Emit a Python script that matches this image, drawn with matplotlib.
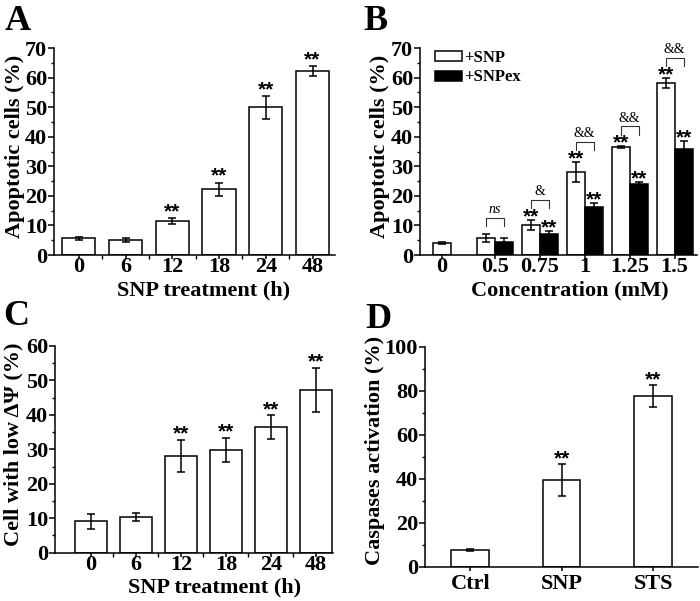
import numpy as np
import matplotlib.pyplot as plt
from matplotlib.ticker import MultipleLocator

plt.rcParams['font.family'] = 'Liberation Serif'
plt.rcParams['font.weight'] = 'bold'
plt.rcParams['axes.labelweight'] = 'bold'
plt.rcParams['axes.linewidth'] = 1.1

# ---- data ----
# A: apoptosis vs SNP treatment time
time_labels = ['0', '6', '12', '18', '24', '48']
apop_time = [5.6, 5.2, 11.5, 22.2, 49.9, 62.2]
apop_time_err = [0.6, 0.7, 1.0, 2.3, 4.0, 1.8]
apop_time_sig = ['', '', '**', '**', '**', '**']

# B: apoptosis vs concentration, SNP and SNPex
conc_labels = ['0', '0.5', '0.75', '1', '1.25', '1.5']
snp = [4.1, 5.75, 10.2, 28.2, 36.5, 58.3]
snp_err = [0.4, 1.4, 1.7, 3.4, 0.3, 1.7]
snp_sig = ['', '', '**', '**', '**', '**']
snpex = [4.5, 7.2, 16.3, 24.1, 35.7]      # no SNPex bar at 0 mM
snpex_err = [1.3, 0.9, 1.4, 0.5, 2.8]
snpex_sig = ['', '**', '**', '**', '**']
pair_sig = ['ns', '&', '&&', '&&', '&&']

# C: low membrane potential vs time
low_psi = [9.1, 10.3, 28.1, 29.8, 36.4, 47.3]
low_psi_err = [2.1, 1.2, 4.7, 3.6, 3.5, 6.4]
low_psi_sig = ['', '', '**', '**', '**', '**']

# D: caspase activation
casp_labels = ['Ctrl', 'SNP', 'STS']
casp = [7.5, 39.4, 77.6]
casp_err = [0.4, 7.3, 5.0]
casp_sig = ['', '**', '**']

FS = 16
EB = dict(fmt='none', ecolor='black', elinewidth=1.1, capsize=3, capthick=1.1)


def style_axis(ax, ymax, ymaj, ymin):
    for s in ['top', 'right']:
        ax.spines[s].set_visible(False)
    ax.set_ylim(0, ymax)
    ax.yaxis.set_major_locator(MultipleLocator(ymaj))
    ax.yaxis.set_minor_locator(MultipleLocator(ymin))
    ax.tick_params(which='major', direction='out', length=4, width=1.1,
                   labelsize=FS, pad=1)
    ax.tick_params(which='minor', direction='out', length=2.5, width=1.0)
    ax.tick_params(axis='x', which='major', length=3, pad=-1.5)
    ax.tick_params(axis='x', which='minor', length=3)


def stars(ax, xs, tops, errs, marks, off):
    for x, t, e, m in zip(xs, tops, errs, marks):
        if m:
            ax.annotate(m, (x, t + e), xytext=(0, off), textcoords='offset points',
                        ha='center', va='baseline', fontsize=15,
                        family='Liberation Sans', fontweight='bold')


fig = plt.figure(figsize=(7, 6.01), dpi=100)

# ---- A ----
axA = fig.add_axes([0.0771, 0.5757, 0.4014, 0.3444])
x = np.arange(len(time_labels))
axA.bar(x, apop_time, 0.714, color='white', edgecolor='black', linewidth=1.1, zorder=2)
axA.errorbar(x, apop_time, yerr=apop_time_err, zorder=3, **EB)
stars(axA, x, apop_time, apop_time_err, apop_time_sig, 0.5)
axA.set_xticks(x)
axA.set_xticklabels(time_labels)
axA.set_xticks(x[:-1] + 0.5, minor=True)
axA.set_xlim(-0.53, 5.48)
style_axis(axA, 70, 10, 5)
axA.set_ylabel('Apoptotic cells (%)', fontsize=FS)
axA.yaxis.set_label_coords(-0.103, 0.523)
axA.set_xlabel('SNP treatment (h)', fontsize=FS)
axA.xaxis.set_label_coords(0.534, -0.122)

# ---- B ----
axB = fig.add_axes([0.6, 0.5757, 0.3953, 0.3444])
xB = np.arange(len(conc_labels)) + np.r_[0, np.full(len(conc_labels) - 1, 0.18)]
w = 0.4
x_snp = xB - np.r_[0, np.full(len(conc_labels) - 1, w / 2)]
x_ex = xB[1:] + w / 2
axB.bar(x_snp, snp, w, color='white', edgecolor='black', linewidth=1.1, zorder=2,
        label='+SNP')
axB.bar(x_ex, snpex, w, color='black', edgecolor='black', linewidth=1.1, zorder=2,
        label='+SNPex')
axB.errorbar(x_snp, snp, yerr=snp_err, zorder=3, **EB)
axB.errorbar(x_ex, snpex, yerr=snpex_err, zorder=3, **EB)
stars(axB, x_snp, snp, snp_err, snp_sig, -1.8)
stars(axB, x_ex, snpex, snpex_err, snpex_sig, -1.8)
for i, m in enumerate(pair_sig):
    xl, xr = x_snp[i + 1], x_ex[i]
    top = snp[i + 1] + snp_err[i + 1] + (5.5 if m == 'ns' else 6.7)
    axB.plot([xl, xl, xr, xr], [top - 2.8, top, top, top - 2.8], color='#333333',
             lw=0.8, zorder=3)
    axB.text((xl + xr) / 2, top + 0.6, m, ha='center', va='bottom', fontsize=10,
             style='italic' if m == 'ns' else 'normal', fontweight='normal')
axB.set_xticks(xB)
axB.set_xticklabels(conc_labels)
axB.set_xlim(-0.48, 5.67)
style_axis(axB, 70, 10, 5)
axB.set_ylabel('Apoptotic cells (%)', fontsize=FS)
axB.yaxis.set_label_coords(-0.108, 0.523)
axB.set_xlabel('Concentration (mM)', fontsize=FS)
axB.xaxis.set_label_coords(0.542, -0.122)
axB.legend(loc='upper left', bbox_to_anchor=(0.055, 0.99), frameon=False,
           fontsize=12, handlelength=1.6, handleheight=0.55, handletextpad=0.15,
           labelspacing=0.2, borderpad=0, borderaxespad=0)

# ---- C ----
axC = fig.add_axes([0.0786, 0.0804, 0.3976, 0.3439])
axC.bar(x, low_psi, 0.71, color='white', edgecolor='black', linewidth=1.1, zorder=2)
axC.errorbar(x, low_psi, yerr=low_psi_err, zorder=3, **EB)
stars(axC, x, low_psi, low_psi_err, low_psi_sig, 0.0)
axC.set_xticks(x)
axC.set_xticklabels(time_labels)
axC.set_xticks(x[:-1] + 0.5, minor=True)
axC.set_xlim(-0.8, 5.39)
style_axis(axC, 60, 10, 5)
axC.set_ylabel('Cell with low ΔΨ (%)', fontsize=FS)
axC.yaxis.set_label_coords(-0.115, 0.527)
axC.set_xlabel('SNP treatment (h)', fontsize=FS)
axC.xaxis.set_label_coords(0.575, -0.122)

# ---- D ----
axD = fig.add_axes([0.6071, 0.0571, 0.39, 0.366])
xD = np.arange(len(casp_labels))
axD.bar(xD, casp, 0.41, color='white', edgecolor='black', linewidth=1.1, zorder=2)
axD.errorbar(xD, casp, yerr=casp_err, zorder=3, **EB)
stars(axD, xD, casp, casp_err, casp_sig, 0.0)
axD.set_xticks(xD)
axD.set_xticklabels(casp_labels)
axD.set_xlim(-0.495, 2.49)
style_axis(axD, 100, 20, 10)
axD.tick_params(axis='x', which='major', pad=2)
axD.set_ylabel('Caspases activation (%)', fontsize=FS)
axD.yaxis.set_label_coords(-0.148, 0.53)

# panel letters
for lab, px, py in [('A', 5, 30), ('B', 363, 30), ('C', 3, 325), ('D', 365, 328)]:
    fig.text(px / 700, 1 - py / 601, lab, fontsize=26, fontweight='bold',
             ha='left', va='baseline')

fig.savefig('out.png', dpi=100)
